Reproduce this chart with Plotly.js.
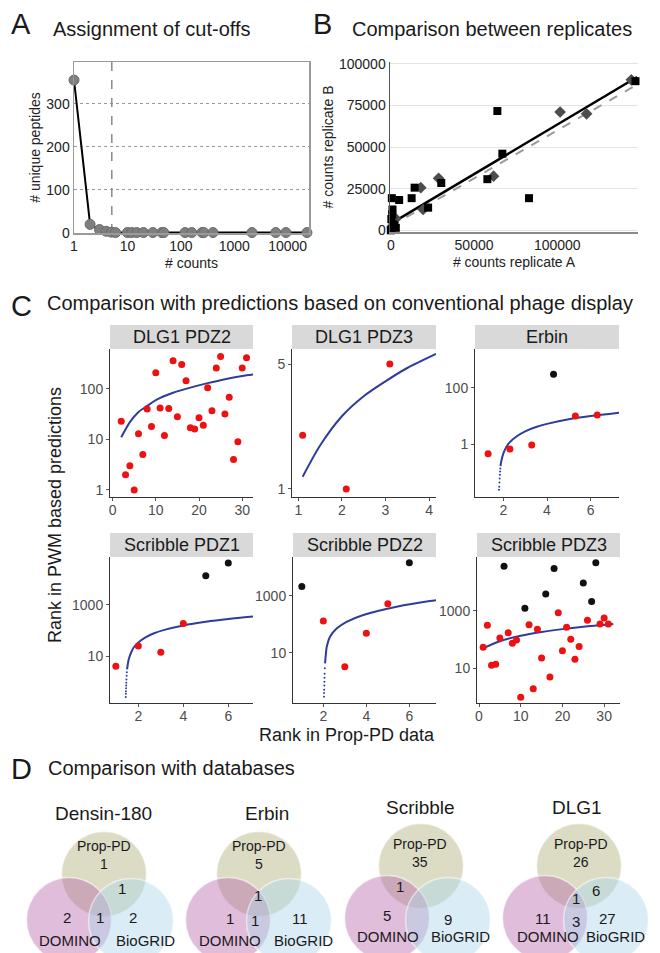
<!DOCTYPE html>
<html><head><meta charset="utf-8">
<script src="https://cdn.plot.ly/plotly-3.0.1.min.js"></script>
<style>html,body{margin:0;padding:0;background:#fff}</style>
</head><body><div id="chart" style="width:660px;height:953px"></div>
<script>
// ---------- Panel A: assignment of cut-offs ----------
const countsA   = [1, 2, 3, 4, 5, 6, 10, 12, 15, 20, 30, 44, 48, 120, 160, 250, 270, 400, 2150, 6000, 9300, 23000];
const peptidesA = [355, 20, 8, 4, 2, 1, 1, 1, 1, 1, 1, 1, 1, 1, 1, 1, 1, 1, 1, 1, 1, 1];
const cutoffA   = 5.1;
const cutoffSpan = [0, 400];
const ticksA    = [1, 10, 100, 1000, 10000];

// ---------- Panel B: comparison between replicates ----------
const squaresA  = [147000, 64000, 67000, 58000, 83000, 30300, 14300, 12500, 22400, 5000, 600, 1000, 800, 300, 2000, 0, 500, 3000, 1500];
const squaresB  = [89500, 71600, 46000, 30700, 19300, 28400, 25600, 19300, 13600, 18200, 19300, 12500, 9600, 6800, 2800, 0, 1000, 1500, 3500];
const diamondsA = [144500, 101700, 117600, 61700, 28700, 18000, 19400, 3000, 1500, 800];
const diamondsB = [90300, 71000, 69900, 32500, 31200, 25600, 12500, 7000, 4500, 2000];
const fitX      = [0, 148000];
const fitSolid  = [4000, 92000];
const fitDashed = [2500, 87500];
const ticksBx   = [0, 50000, 100000, 150000];
const ticksBy   = [0, 25000, 50000, 75000, 100000];

// ---------- Panel C: comparison with PWM predictions ----------
const facetNames = ['DLG1 PDZ2', 'DLG1 PDZ3', 'Erbin', 'Scribble PDZ1', 'Scribble PDZ2', 'Scribble PDZ3'];
const dlg1pdz2X = [2,3,4,5,6,7,8,9,10,11,12,13,14,15,16,17,18,19,20,21,22,23,24,25,26,27,28,29,30,31];
const dlg1pdz2Y = [23,2,3,1,13,5,40,18,210,42,12,41,360,28,305,145,17,16,27,19,106,37,260,440,32,68,4,9,260,415];
const dlg1pdz2G = dlg1pdz2X.map(() => 'r');
const dlg1pdz3X = [1.1, 2.1, 3.1];
const dlg1pdz3Y = [2, 1, 5];
const dlg1pdz3G = ['r', 'r', 'r'];
const erbinX = [1.3, 2.3, 3.3, 4.3, 5.3, 6.3];
const erbinY = [0.47, 0.68, 0.95, 300, 10, 11];
const erbinG = ['r', 'r', 'r', 'k', 'r', 'r'];
const scrib1X = [1, 2, 3, 4, 5, 6];
const scrib1Y = [4, 25, 14, 190, 14000, 44000];
const scrib1G = ['r', 'r', 'r', 'r', 'k', 'k'];
const scrib2X = [1, 2, 3, 4, 5, 6];
const scrib2Y = [2100, 130, 3.2, 48, 520, 14500];
const scrib2G = ['k', 'r', 'r', 'r', 'r', 'k'];
const scrib3X = [1,2,3,4,5,6,7,8,9,10,11,12,13,14,15,16,17,18,19,20,21,22,23,24,25,26,27,28,29,30,31];
const scrib3Y = [54,316,12.7,13.8,114,36000,175,74,97,0.98,1230,330,1.95,230,23,3900,5,30000,870,41,270,103,20.6,57,9500,470,2150,48000,350,565,350];
const scrib3G = ['r','r','r','r','r','k','r','r','r','r','k','r','r','r','r','k','r','k','r','r','r','r','r','r','k','r','k','k','r','r','r'];

// trend curves (solid part and dotted tail)
const curve1X = [2, 4, 6, 8, 10, 14, 18, 22, 26, 30, 32.5];
const curve1Y = [11, 22, 35, 46, 60, 84, 106, 130, 156, 180, 192];
const curve2X = [1.1, 1.5, 2, 2.5, 3, 3.5, 4.16];
const curve2Y = [1.17, 1.75, 2.55, 3.3, 4.0, 4.75, 5.7];
const curve3X = [1.87, 1.9, 2.0, 2.15, 2.3, 2.6, 3.0, 3.5, 4.0, 5.0, 6.0, 7.3];
const curve3Y = [0.17, 0.24, 0.48, 0.84, 1.2, 1.9, 2.9, 4.1, 5.3, 7.7, 10, 13.2];
const tail3X  = [1.80, 1.81, 1.82, 1.83, 1.84, 1.85, 1.86];
const tail3Y  = [0.025, 0.032, 0.045, 0.062, 0.085, 0.11, 0.14];
const curve4X = [1.5, 1.55, 1.6, 1.7, 1.8, 2.0, 2.3, 2.7, 3.2, 4, 5, 6, 7.1];
const curve4Y = [3, 6, 9, 15, 22, 34, 53, 78, 108, 158, 220, 282, 350];
const tail4X  = [1.44, 1.445, 1.45, 1.455, 1.46, 1.465, 1.47, 1.48, 1.49];
const tail4Y  = [0.25, 0.33, 0.42, 0.55, 0.7, 0.9, 1.2, 1.7, 2.3];
const curve5X = [2.08, 2.12, 2.16, 2.31, 2.62, 3.08, 3.86, 5.41, 6.96, 7.24];
const curve5Y = [4.2, 9, 16, 36, 70, 120, 210, 410, 650, 690];
const tail5X  = [2.03, 2.035, 2.04, 2.045, 2.05, 2.055, 2.06, 2.07];
const tail5Y  = [0.28, 0.38, 0.5, 0.7, 0.95, 1.3, 1.8, 2.8];
const curve6X = [1, 5, 10, 15, 20, 25, 32.2];
const curve6Y = [50, 88, 136, 184, 232, 280, 349];

// ---------- Panel D: comparison with databases ----------
const vennNames     = ['Densin-180', 'Erbin', 'Scribble', 'DLG1'];
const propOnly      = [1, 5, 35, 26];
const dominoOnly    = [2, 1, 5, 11];
const biogridOnly   = [2, 11, 9, 27];
const propDomino    = [null, null, 1, null];
const propBiogrid   = [1, null, null, 6];
const dominoBiogrid = [1, 1, null, 3];
const allThree      = [null, 1, null, 1];

// ================== layout helpers ==================
const W = 660, H = 953;
const PX = v => v / W;
const PY = v => 1 - v / H;
const FONT = 'Liberation Sans, Arial, Helvetica, sans-serif';
const RED = '#ee1111', BLK = '#111111', BLUE = '#2f3d9a';

const traces = [];
const annotations = [];
const shapes = [];

function ann(text, x, y, size, opts) {
  annotations.push(Object.assign({
    text: text, x: PX(x), y: PY(y), xref: 'paper', yref: 'paper',
    showarrow: false, xanchor: 'center', yanchor: 'middle', borderpad: 0,
    font: {family: FONT, size: size, color: '#1a1a1a'}
  }, opts || {}));
}

// panel letters & titles
ann('A', 10, 24, 29, {xanchor: 'left'});
ann('Assignment of cut-offs', 52, 29, 20, {xanchor: 'left'});
ann('B', 312, 24, 29, {xanchor: 'left'});
ann('Comparison between replicates', 351, 29, 20, {xanchor: 'left'});
ann('C', 10, 306, 29, {xanchor: 'left'});
ann('Comparison with predictions based on conventional phage display', 46, 303, 20, {xanchor: 'left'});
ann('D', 10, 769, 29, {xanchor: 'left'});
ann('Comparison with databases', 47, 768, 20, {xanchor: 'left'});

// ---------- Panel A traces ----------
traces.push({
  x: [cutoffA, cutoffA], y: cutoffSpan, xaxis: 'x', yaxis: 'y', mode: 'lines',
  line: {color: '#8a8a8a', width: 1.5, dash: 'dash'}, hoverinfo: 'skip'
});
traces.push({
  x: countsA, y: peptidesA, xaxis: 'x', yaxis: 'y', mode: 'lines+markers', cliponaxis: false,
  line: {color: '#000', width: 2},
  marker: {color: '#7f7f7f', size: 10, line: {color: '#6a6a6a', width: 1}}
});

// ---------- Panel B traces ----------
traces.push({x: fitX, y: fitDashed, xaxis: 'x2', yaxis: 'y2', mode: 'lines',
  line: {color: '#9a9a9a', width: 2, dash: 'dash'}});
traces.push({x: fitX, y: fitSolid, xaxis: 'x2', yaxis: 'y2', mode: 'lines',
  line: {color: '#000', width: 2.5}});
traces.push({x: diamondsA, y: diamondsB, xaxis: 'x2', yaxis: 'y2', mode: 'markers', cliponaxis: false,
  marker: {symbol: 'diamond', color: '#4d4d4d', size: 9}});
traces.push({x: squaresA, y: squaresB, xaxis: 'x2', yaxis: 'y2', mode: 'markers', cliponaxis: false,
  marker: {symbol: 'square', color: '#000', size: 8}});

// ---------- Panel C facets ----------
const facets = [
  {x: dlg1pdz2X, y: dlg1pdz2Y, g: dlg1pdz2G, cx: curve1X, cy: curve1Y, tx: null, ty: null},
  {x: dlg1pdz3X, y: dlg1pdz3Y, g: dlg1pdz3G, cx: curve2X, cy: curve2Y, tx: null, ty: null},
  {x: erbinX, y: erbinY, g: erbinG, cx: curve3X, cy: curve3Y, tx: tail3X, ty: tail3Y},
  {x: scrib1X, y: scrib1Y, g: scrib1G, cx: curve4X, cy: curve4Y, tx: tail4X, ty: tail4Y},
  {x: scrib2X, y: scrib2Y, g: scrib2G, cx: curve5X, cy: curve5Y, tx: tail5X, ty: tail5Y},
  {x: scrib3X, y: scrib3Y, g: scrib3G, cx: curve6X, cy: curve6Y, tx: null, ty: null}
];
const facetBox = [
  {l: 110, r: 253, t: 349, b: 497}, {l: 292, r: 436, t: 349, b: 497}, {l: 475, r: 619, t: 349, b: 497},
  {l: 110, r: 253, t: 557, b: 703}, {l: 293, r: 436, t: 557, b: 703}, {l: 477, r: 620, t: 557, b: 703}
];
const facetAx = [
  {xr: [-0.6, 32.5], yr: [-0.14, 2.79], xt: [0, 10, 20, 30], yt: [1, 10, 100]},
  {xr: [0.855, 4.16], yr: [-0.045, 0.783], xt: [1, 2, 3, 4], yt: [1, 5]},
  {xr: [0.70, 7.3], yr: [-1.86, 3.37], xt: [2, 4, 6], yt: [1, 100]},
  {xr: [0.74, 7.1], yr: [-0.84, 4.88], xt: [2, 4, 6], yt: [10, 1000]},
  {xr: [0.59, 7.24], yr: [-0.77, 4.36], xt: [2, 4, 6], yt: [10, 1000]},
  {xr: [-0.48, 33.8], yr: [-0.21, 4.88], xt: [0, 10, 20, 30], yt: [10, 1000]}
];

const layout = {
  width: W, height: H, margin: {l: 0, r: 0, t: 0, b: 0},
  paper_bgcolor: '#ffffff', plot_bgcolor: '#ffffff', showlegend: false,
  font: {family: FONT, color: '#222'},
  xaxis: {
    domain: [PX(74), PX(309)], anchor: 'y', type: 'log', range: [0, 4.4],
    tickvals: ticksA, ticktext: ticksA.map(String),
    showline: true, mirror: true, linecolor: '#9a9a9a', linewidth: 1.5,
    showgrid: false, zeroline: false, ticks: '', tickfont: {size: 14, color: '#222'},
    title: {text: '# counts', font: {size: 14, color: '#222'}, standoff: 5}
  },
  yaxis: {
    domain: [PY(233), PY(62)], anchor: 'x', range: [0, 397], tickvals: [0, 100, 200, 300],
    showgrid: true, gridcolor: '#9a9a9a', griddash: 'dot', gridwidth: 1,
    showline: true, mirror: true, linecolor: '#9a9a9a', linewidth: 1.5, zeroline: false, ticks: '',
    tickfont: {size: 14, color: '#222'},
    title: {text: '# unique peptides', font: {size: 14, color: '#222'}, standoff: 2}
  },
  xaxis2: {
    domain: [PX(390), PX(638)], anchor: 'y2', range: [-500, 148500],
    tickvals: ticksBx, ticktext: ticksBx.map(String), showline: true, linecolor: '#8a8a8a', linewidth: 1.5,
    showgrid: false, zeroline: false, ticks: '', tickfont: {size: 14, color: '#222'},
    title: {text: '# counts replicate A', font: {size: 14, color: '#222'}, standoff: 5}
  },
  yaxis2: {
    domain: [PY(232), PY(62)], anchor: 'x2', range: [-1000, 101000],
    tickvals: ticksBy, ticktext: ticksBy.map(String), showgrid: true, gridcolor: '#e3e3e3', gridwidth: 1,
    showline: true, linecolor: '#555', linewidth: 1.5, zeroline: false, ticks: '',
    tickfont: {size: 14, color: '#222'},
    title: {text: '# counts replicate B', font: {size: 14, color: '#222'}, standoff: 2}
  },
  annotations: annotations, shapes: shapes
};

facets.forEach((f, i) => {
  const n = i + 3, xa = 'x' + n, ya = 'y' + n;
  const box = facetBox[i], ax = facetAx[i];
  layout['xaxis' + n] = {
    domain: [PX(box.l), PX(box.r)], anchor: ya, range: ax.xr, tickvals: ax.xt,
    showline: true, linecolor: '#333', linewidth: 1, ticks: 'outside', ticklen: 3, tickcolor: '#555',
    ticklabelstandoff: -3,
    showgrid: false, zeroline: false, tickfont: {size: 14, color: '#4d4d4d'}
  };
  layout['yaxis' + n] = {
    domain: [PY(box.b), PY(box.t)], anchor: xa, type: 'log', range: ax.yr, tickvals: ax.yt,
    ticktext: ax.yt.map(String),
    showline: true, linecolor: '#333', linewidth: 1, ticks: 'outside', ticklen: 3, tickcolor: '#555',
    showgrid: false, zeroline: false, tickfont: {size: 14, color: '#4d4d4d'}
  };
  shapes.push({type: 'rect', xref: 'paper', yref: 'paper', x0: PX(box.l), x1: PX(box.r),
    y0: PY(box.t), y1: PY(box.t - 24), fillcolor: '#d9d9d9', line: {width: 0}, layer: 'below'});
  ann(facetNames[i], (box.l + box.r) / 2, box.t - 12, 18);
  if (f.tx) traces.push({x: f.tx, y: f.ty, xaxis: xa, yaxis: ya, mode: 'markers',
    marker: {color: BLUE, size: 2}, hoverinfo: 'skip'});
  traces.push({x: f.cx, y: f.cy, xaxis: xa, yaxis: ya, mode: 'lines',
    line: {color: BLUE, width: 2, shape: 'spline', smoothing: 0.8}});
  traces.push({x: f.x, y: f.y, xaxis: xa, yaxis: ya, mode: 'markers', cliponaxis: false,
    marker: {color: f.g.map(c => c === 'k' ? BLK : RED), size: 7}});
});
ann('Rank in PWM based predictions', 55, 515, 18, {textangle: -90});
ann('Rank in Prop-PD data', 347, 735, 18);

// ---------- Panel D: Venn diagrams ----------
const vennGeo = [
  {title: [103, 813], top: [104, 874], left: [69, 920], right: [131, 921],
   p: [104, 855], pd: null, pb: [122, 888], all: null,
   d: [67, 917], db: [100, 917], b: [133, 917], dName: [70, 940], bName: [145, 940]},
  {title: [267, 813], top: [259, 874], left: [228, 920], right: [289, 921],
   p: [259, 855], pd: null, pb: null, all: [258, 895],
   d: [230, 918], db: [255, 920], b: [300, 918], dName: [230, 940], bName: [303, 940]},
  {title: [420, 807], top: [421, 866], left: [387, 918], right: [448, 920],
   p: [420, 853], pd: [400, 886], pb: null, all: null,
   d: [387, 915], db: null, b: [448, 919], dName: [388, 936], bName: [460, 936]},
  {title: [577, 807], top: [579, 866], left: [545, 918], right: [606, 920],
   p: [581, 853], pd: null, pb: [596, 890], all: [576, 898],
   d: [543, 918], db: [576, 921], b: [607, 918], dName: [548, 936], bName: [615, 936]}
];
const R = 42.5;
function circle(c, fill) {
  shapes.push({type: 'circle', xref: 'paper', yref: 'paper',
    x0: PX(c[0] - R), x1: PX(c[0] + R), y0: PY(c[1] + R), y1: PY(c[1] - R),
    fillcolor: fill, line: {color: 'rgba(255,255,255,0.55)', width: 1.5}, layer: 'above'});
}
vennGeo.forEach((g, i) => {
  circle(g.top, 'rgba(186,186,140,0.5)');
  circle(g.left, 'rgba(182,98,168,0.42)');
  circle(g.right, 'rgba(172,214,234,0.45)');
  ann(vennNames[i], g.title[0], g.title[1], 19);
  ann('Prop-PD<br>' + propOnly[i], g.p[0], g.p[1], 14);
  if (g.pd && propDomino[i] != null) ann(String(propDomino[i]), g.pd[0], g.pd[1], 15);
  if (g.pb && propBiogrid[i] != null) ann(String(propBiogrid[i]), g.pb[0], g.pb[1], 15);
  if (g.all && allThree[i] != null) ann(String(allThree[i]), g.all[0], g.all[1], 15);
  ann(String(dominoOnly[i]), g.d[0], g.d[1], 15);
  if (g.db && dominoBiogrid[i] != null) ann(String(dominoBiogrid[i]), g.db[0], g.db[1], 15);
  ann(String(biogridOnly[i]), g.b[0], g.b[1], 15);
  ann('DOMINO', g.dName[0], g.dName[1], 15);
  ann('BioGRID', g.bName[0], g.bName[1], 15);
});

Plotly.newPlot('chart', traces, layout, {staticPlot: true, displayModeBar: false});
</script>
</body></html>
